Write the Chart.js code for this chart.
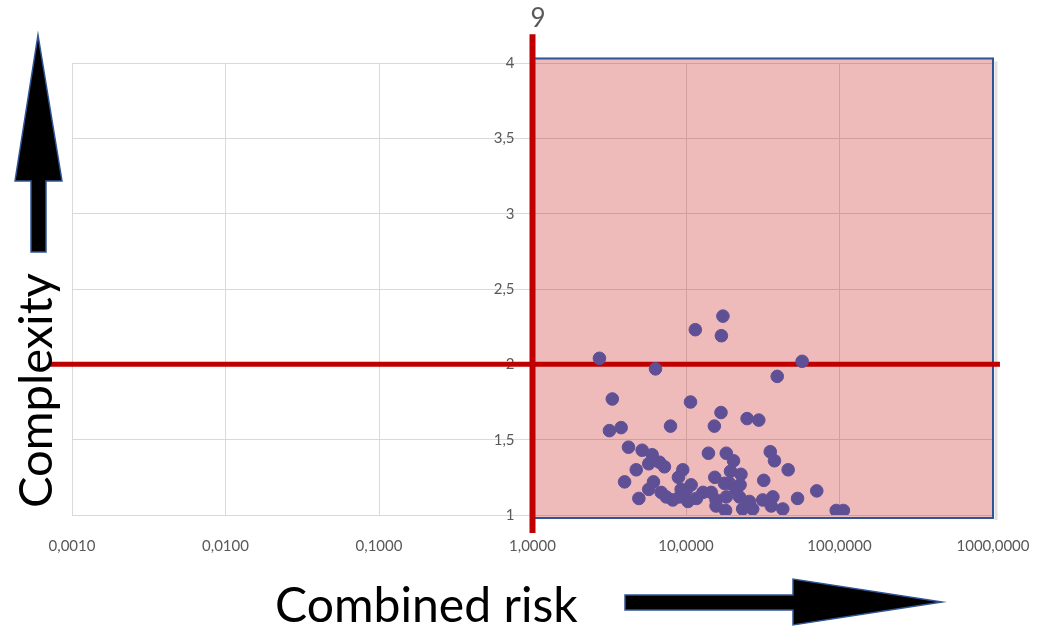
<!DOCTYPE html>
<html>
<head>
<meta charset="utf-8">
<script src="https://cdn.jsdelivr.net/npm/chart.js@4.4.0/dist/chart.umd.min.js"></script>
<style>
body{margin:0;background:#fff}
#wrap{width:1041px;height:629px}
</style>
</head>
<body>
<div id="wrap"><canvas id="myChart"></canvas></div>
<script>
// combined risk (x, log) and complexity (y) of each item
var riskValues = [17.4, 11.5, 17.0, 2.73, 57.1, 6.33, 39.3, 3.31, 10.7, 16.9,
  25.0, 29.8, 3.17, 3.78, 7.93, 15.3, 4.22, 5.18, 6.02, 5.72,
  6.72, 7.24, 4.74, 3.98, 14.0, 18.3, 20.4, 35.4, 37.7, 46.3,
  19.5, 22.8, 15.4, 9.53, 8.93, 32.1, 6.14, 5.72, 4.93, 22.5,
  17.8, 71.1, 53.3, 10.8, 10.0, 6.89, 7.43, 8.20, 12.9, 14.6,
  11.7, 10.3, 15.7, 18.3, 15.7, 18.1, 22.3, 23.4, 25.9, 27.2,
  31.6, 36.8, 35.9, 42.7, 9.07, 95.2, 106, 19.2, 21.2, 9.3]
var complexityValues = [2.32, 2.23, 2.19, 2.04, 2.02, 1.97, 1.92, 1.77, 1.75, 1.68,
  1.64, 1.63, 1.56, 1.58, 1.59, 1.59, 1.45, 1.43, 1.40, 1.34,
  1.35, 1.32, 1.30, 1.22, 1.41, 1.41, 1.36, 1.42, 1.36, 1.30,
  1.29, 1.27, 1.25, 1.30, 1.25, 1.23, 1.22, 1.17, 1.11, 1.20,
  1.21, 1.16, 1.11, 1.20, 1.16, 1.15, 1.12, 1.10, 1.15, 1.15,
  1.11, 1.09, 1.10, 1.12, 1.06, 1.03, 1.12, 1.04, 1.09, 1.04,
  1.10, 1.12, 1.06, 1.04, 1.12, 1.03, 1.03, 1.21, 1.17, 1.17]
var xTicks = [0.001, 0.01, 0.1, 1, 10, 100, 1000]
var yTicks = [1, 1.5, 2, 2.5, 3, 3.5, 4]

// quadrant: shaded zone and the two red threshold lines
var riskLimit = 1
var complexityLimit = 2
var zoneX = [1, 1000]
var zoneY = [0.98, 4.03]
var hLineX = [0.00072, 1110]
var vLineY = [0.88, 4.19]
var topLabel = '9'
var xTitle = 'Combined risk'
var yTitle = 'Complexity'

var points = riskValues.map((v, i) => ({x: v, y: complexityValues[i]}))

function comma(v, d) {
  return v.toFixed(d).replace('.', ',')
}

function arrow(ctx, pts) {
  ctx.beginPath()
  ctx.moveTo(pts[0][0], pts[0][1])
  for (let i = 1; i < pts.length; i++) ctx.lineTo(pts[i][0], pts[i][1])
  ctx.closePath()
  ctx.fillStyle = '#000'
  ctx.fill()
  ctx.strokeStyle = '#2F5597'
  ctx.lineWidth = 1.5
  ctx.stroke()
}

const overlay = {
  id: 'overlay',
  beforeDatasetsDraw(chart) {
    const {ctx, scales: {x, y}} = chart
    ctx.save()
    const zl = x.getPixelForValue(zoneX[0]), zr = x.getPixelForValue(zoneX[1])
    const zt = y.getPixelForValue(zoneY[1]), zb = y.getPixelForValue(zoneY[0])
    ctx.fillStyle = 'rgba(192,0,0,0.27)'
    ctx.fillRect(zl, zt, zr - zl, zb - zt)
    ctx.strokeStyle = 'rgba(0,0,0,0.12)'
    ctx.lineWidth = 3
    ctx.beginPath()
    ctx.moveTo(zr + 3, zt + 3); ctx.lineTo(zr + 3, zb + 2)
    ctx.stroke()
    ctx.strokeStyle = '#2F5597'
    ctx.lineWidth = 2
    ctx.strokeRect(zl, zt, zr - zl, zb - zt)

    // y tick labels sit left of the axis that crosses at riskLimit
    const ax = x.getPixelForValue(riskLimit)
    ctx.fillStyle = '#595959'
    ctx.font = '15px Lato'
    ctx.textAlign = 'right'
    ctx.textBaseline = 'middle'
    yTicks.forEach(v => {
      ctx.fillText(Number.isInteger(v) ? String(v) : comma(v, 1), ax - 18, y.getPixelForValue(v))
    })

    ctx.strokeStyle = '#C00000'
    ctx.lineWidth = 6
    ctx.beginPath()
    ctx.moveTo(ax, y.getPixelForValue(vLineY[0]))
    ctx.lineTo(ax, y.getPixelForValue(vLineY[1]))
    ctx.stroke()
    ctx.lineWidth = 5
    ctx.beginPath()
    ctx.moveTo(x.getPixelForValue(hLineX[0]), y.getPixelForValue(complexityLimit))
    ctx.lineTo(x.getPixelForValue(hLineX[1]), y.getPixelForValue(complexityLimit))
    ctx.stroke()

    ctx.fillStyle = '#595959'
    ctx.font = '26px Lato'
    ctx.textBaseline = 'alphabetic'
    ctx.textAlign = 'left'
    ctx.fillText(topLabel, ax - 2, 27)
    ctx.restore()
  },
  afterDraw(chart) {
    const {ctx} = chart
    ctx.save()
    arrow(ctx, [[38, 35], [62, 181], [46, 181], [46, 252], [31, 252], [31, 181], [15, 181]])
    arrow(ctx, [[625, 595], [793, 595], [793, 579], [942, 602], [793, 625], [793, 610], [625, 610]])

    ctx.fillStyle = '#000'
    ctx.textBaseline = 'alphabetic'
    ctx.font = '50px Lato'
    let w = ctx.measureText(xTitle).width
    ctx.font = (50 * 303 / w).toFixed(1) + 'px Lato'
    ctx.textAlign = 'left'
    ctx.fillText(xTitle, 275, 622)

    ctx.font = '50px Lato'
    w = ctx.measureText(yTitle).width
    ctx.font = (50 * 235 / w).toFixed(1) + 'px Lato'
    ctx.translate(52, 508)
    ctx.rotate(-Math.PI / 2)
    ctx.fillText(yTitle, 0, 0)
    ctx.restore()
  }
}

const ctx = document.getElementById('myChart')
const chart1 = new Chart(ctx, {
  type: 'scatter',
  data: {
    datasets: [{
      data: points,
      backgroundColor: '#5F5096',
      borderColor: '#5F5096',
      pointRadius: 6.3,
      pointHoverRadius: 6.3
    }]
  },
  options: {
    responsive: true,
    maintainAspectRatio: false,
    animation: false,
    layout: {padding: {left: 72, right: 48, top: 63, bottom: 0}},
    plugins: {legend: {display: false}, tooltip: {enabled: false}},
    scales: {
      x: {
        type: 'logarithmic',
        min: 0.001,
        max: 1000,
        afterBuildTicks: (scale) => { scale.ticks = xTicks.map(v => ({value: v})) },
        afterFit: (scale) => { scale.height = 114; scale.paddingRight = 0; scale.paddingLeft = 0 },
        grid: {color: '#D9D9D9', drawTicks: false},
        border: {display: false},
        ticks: {
          color: '#595959',
          font: {family: 'Lato', size: 15},
          padding: 22,
          maxRotation: 0,
          autoSkip: false,
          callback: (v) => comma(v, 4)
        }
      },
      y: {
        min: 1,
        max: 4,
        position: 'left',
        afterBuildTicks: (scale) => { scale.ticks = yTicks.map(v => ({value: v})) },
        afterFit: (scale) => { scale.width = 0 },
        grid: {color: '#D9D9D9', drawTicks: false},
        border: {display: false},
        ticks: {display: false}
      }
    }
  },
  plugins: [overlay]
})
</script>
</body>
</html>
